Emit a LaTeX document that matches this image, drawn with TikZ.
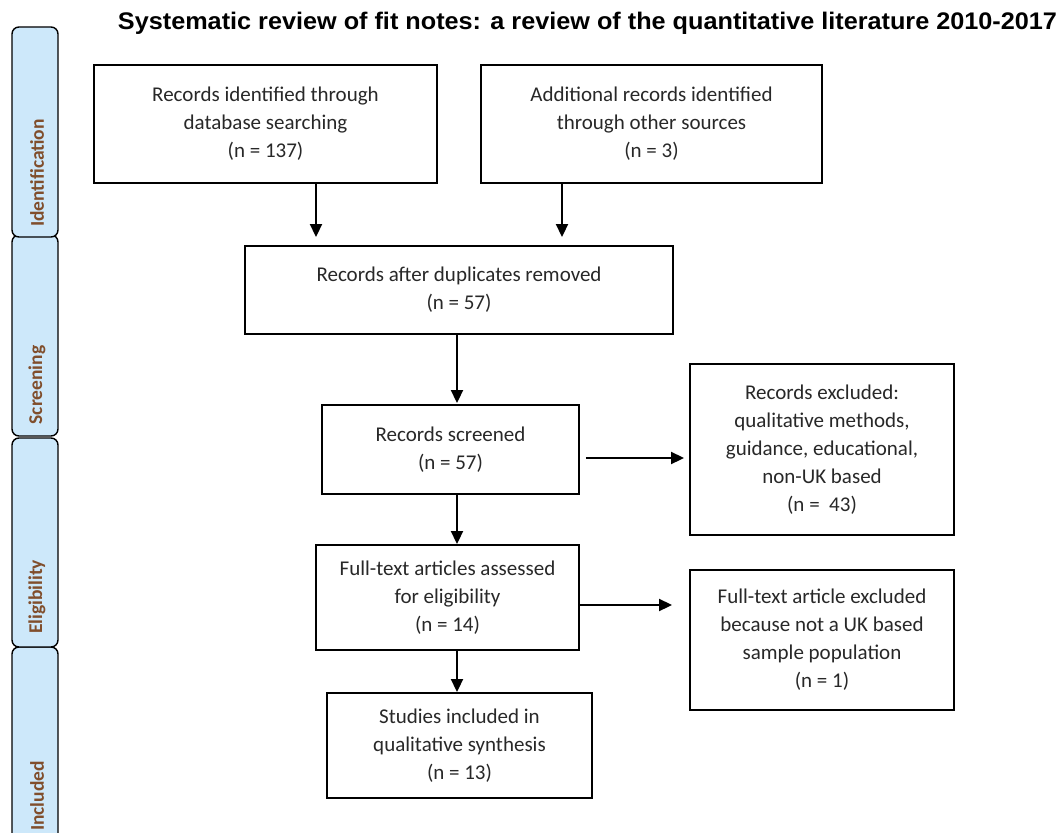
\documentclass[tikz,border=0pt]{standalone}
\usepackage{fontspec}
\usepackage{graphicx}
\setmainfont{Carlito}
\newfontfamily\titlefont{Liberation Sans}
\usetikzlibrary{arrows.meta,calc}
\definecolor{barfill}{RGB}{205,232,250}
\definecolor{barlabel}{RGB}{128,78,44}
\definecolor{boxtext}{RGB}{40,40,40}
\begin{document}
\begin{tikzpicture}[x=1pt,y=-1pt,
  box/.style={draw=black,line width=1.9pt,fill=white,align=center,text=boxtext,
    font=\fontsize{21}{28}\selectfont,inner sep=0pt},
  bar/.style={draw=black,line width=1.4pt,fill=barfill,rounded corners=7pt},
  barlbl/.style={rotate=90,text=barlabel,font=\fontsize{19.5}{22}\selectfont\bfseries},
  arr/.style={line width=1.9pt,-{Triangle[length=13pt,width=12pt]}}]
\useasboundingbox (0,0) rectangle (1059,832);
\fill[white] (0,0) rectangle (1059,832);
% side bars
\begin{scope}
  \clip (0,0) rectangle (1059,832);
  \draw[bar] (12,647) rectangle (58,870);
\end{scope}
\draw[bar] (12,438) rectangle (58,647);
\draw[bar] (12,235) rectangle (58,436);
\draw[bar] (12,27) rectangle (58,237);
\node[barlbl] (lid) at (37,173) {Identification};
\node[barlbl] (lsc) at (37,385) {Screening};
\node[barlbl] (lel) at (37,597) {Eligibility};
\node[barlbl] (lin) at (37,796) {Included};
% title
\node[anchor=base] (title) at (587.5,30)
  {\resizebox{939pt}{\height}{\titlefont\bfseries\fontsize{24}{28}\selectfont Systematic review of fit notes: a review of the quantitative literature 2010-2017}};
% boxes
\node[box,minimum width=343pt,minimum height=118pt] (b1) at (265.5,124)
  {Records identified through\\database searching\\(n = 137)};
\node[box,minimum width=341pt,minimum height=118pt] (b2) at (651.5,124)
  {Additional records identified\\through other sources\\(n = 3)};
\node[box,minimum width=428pt,minimum height=88pt] (b3) at (459,290)
  {Records after duplicates removed\\(n = 57)};
\node[box,minimum width=257pt,minimum height=89pt] (b4) at (450.5,449.5)
  {Records screened\\(n = 57)};
\node[box,minimum width=264pt,minimum height=171pt] (b5) at (822,449.5)
  {Records excluded:\\qualitative methods,\\guidance, educational,\\non-UK based\\(n = \ 43)};
\node[box,minimum width=263pt,minimum height=105pt] (b6) at (447.5,597.5)
  {Full-text articles assessed\\for eligibility\\(n = 14)};
\node[box,minimum width=264pt,minimum height=140pt] (b7) at (822,640)
  {Full-text article excluded\\because not a UK based\\sample population\\(n = 1)};
\node[box,minimum width=265pt,minimum height=105pt] (b8) at (459.5,745.5)
  {Studies included in\\qualitative synthesis\\(n = 13)};
% connector guide coordinates
\coordinate (c1) at (316,0);
\coordinate (c2) at (562,0);
\coordinate (c3) at (457,0);
\coordinate (r1) at (0,458);
\coordinate (r2) at (0,605);
% connectors
\draw[arr,shorten >=8pt] (b1.south -| c1) -- (b3.north -| c1);
\draw[arr,shorten >=8pt] (b2.south -| c2) -- (b3.north -| c2);
\draw[arr,shorten >=1pt] (b3.south -| c3) -- (b4.north -| c3);
\draw[arr,shorten <=6pt,shorten >=5pt] (b4.east |- r1) -- (b5.west |- r1);
\draw[arr] (b4.south -| c3) -- (b6.north -| c3);
\draw[arr,shorten >=17pt] (b6.east |- r2) -- (b7.west |- r2);
\draw[arr] (b6.south -| c3) -- (b8.north -| c3);
\end{tikzpicture}
\end{document}
